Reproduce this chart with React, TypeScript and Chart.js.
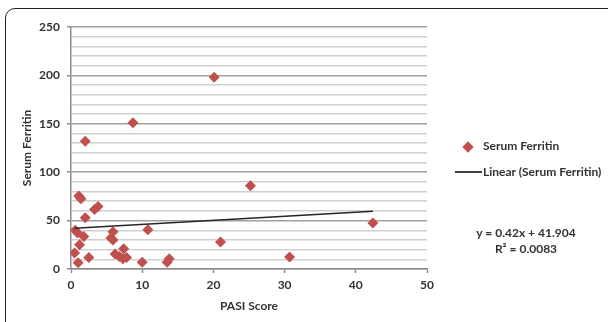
import React, { useEffect, useRef } from 'react';
import { Chart, registerables } from 'chart.js';

Chart.register(...registerables);

// Data
const pasiScores = [20.1, 8.7, 2.0, 25.2, 1.1, 1.4, 3.3, 3.8, 2.0, 0.6, 0.9, 5.9, 10.8, 1.8, 5.6, 5.9, 1.2, 21.0, 7.4, 0.5, 6.2, 6.8, 7.3, 7.8, 2.5, 1.0, 10.0, 13.5, 13.8, 30.7, 42.4];
const serumFerritin = [198, 151, 132, 86, 75.5, 72.5, 61.5, 64.5, 53, 40, 37.5, 38.5, 40.5, 33.5, 32, 30, 25, 28, 21, 16.5, 15.5, 13, 10.5, 12, 12, 6.5, 7, 7, 10.5, 12.5, 47.5];
const trendX = [0.5, 42.4];
const trendY = [42.1, 59.7];
const xTicks = [0, 10, 20, 30, 40, 50];
const yLabelled = [0, 50, 100, 150, 200, 250];
const seriesName = 'Serum Ferritin';
const trendName = 'Linear (Serum Ferritin)';
const equationText = 'y = 0.42x + 41.904';
const r2Text = 'R\u00B2 = 0.0083';

const RED = '#c0504d';
const TEXT = '#333333';
const FONT = 'Lato, "Open Sans", sans-serif';

export default function App() {
  const canvasRef = useRef<HTMLCanvasElement | null>(null);

  useEffect(() => {
    const canvas = canvasRef.current;
    if (!canvas) return;
    const chart = new Chart(canvas, {
      type: 'scatter',
      data: {
        datasets: [
          {
            label: seriesName,
            data: pasiScores.map((x, i) => ({ x, y: serumFerritin[i] })),
            pointStyle: 'rectRot',
            pointRadius: 5.5,
            backgroundColor: RED,
            borderColor: RED,
            borderWidth: 0,
            showLine: false,
            order: 2,
          },
          {
            label: trendName,
            data: trendX.map((x, i) => ({ x, y: trendY[i] })),
            showLine: true,
            borderColor: '#262626',
            borderWidth: 1.5,
            pointRadius: 0,
            order: 1,
          },
        ],
      },
      options: {
        responsive: false,
        animation: false,
        layout: { padding: { top: 27, right: 181, left: 0, bottom: 0 } },
        plugins: {
          legend: { display: false },
          tooltip: { enabled: false },
        },
        scales: {
          x: {
            type: 'linear',
            position: 'bottom',
            min: 0,
            max: 50,
            afterBuildTicks: (s: any) => {
              s.ticks = xTicks.map((v) => ({ value: v }));
            },
            ticks: {
              font: { family: FONT, size: 12, weight: 'bold' },
              color: TEXT,
              padding: 5,
            },
            grid: {
              drawOnChartArea: false,
              drawTicks: true,
              tickLength: 4,
              tickColor: '#8c8c8c',
              tickWidth: 1.5,
            },
            border: { color: '#8c8c8c', width: 1.5 },
            title: {
              display: true,
              text: 'PASI Score',
              font: { family: FONT, size: 12, weight: 'bold' },
              color: TEXT,
              padding: { top: 0, bottom: 9 },
            },
            afterFit: (s: any) => {
              s.height = 53;
            },
          },
          y: {
            type: 'linear',
            min: 0,
            max: 250,
            ticks: {
              stepSize: 10,
              autoSkip: false,
              font: { family: FONT, size: 12, weight: 'bold' },
              color: TEXT,
              padding: 7,
              callback: (v: any) => (yLabelled.includes(Number(v)) ? String(v) : ''),
            },
            grid: {
              color: (ctx: any) => (ctx.tick && ctx.tick.value % 50 === 0 ? '#a0a0a0' : '#cfcfcf'),
              lineWidth: 1.5,
              tickLength: 4,
              tickColor: (ctx: any) => (ctx.tick && ctx.tick.value % 50 === 0 ? '#8c8c8c' : 'rgba(0,0,0,0)'),
            },
            border: { color: '#8c8c8c', width: 1.5 },
            title: {
              display: true,
              text: 'Serum Ferritin',
              font: { family: FONT, size: 12, weight: 'bold' },
              color: TEXT,
              padding: { top: 20, bottom: 0 },
            },
            afterFit: (s: any) => {
              s.width = 71;
            },
          },
        },
      } as any,
    });
    return () => chart.destroy();
  }, []);

  const textStyle: React.CSSProperties = {
    position: 'absolute',
    fontFamily: FONT,
    fontSize: 12,
    fontWeight: 'bold',
    color: TEXT,
    whiteSpace: 'nowrap',
    lineHeight: '14px',
  };

  return (
    <div style={{ position: 'fixed', left: 0, top: 0, width: 608, height: 322, background: '#fff', overflow: 'hidden' }}>
      <canvas ref={canvasRef} width={608} height={322} style={{ position: 'absolute', left: 0, top: 0, width: 608, height: 322 }} />
      {/* legend */}
      <div style={{ position: 'absolute', left: 464, top: 142.5, width: 8, height: 8, background: RED, transform: 'rotate(45deg)' }} />
      <div style={{ ...textStyle, left: 483, top: 139 }}>{seriesName}</div>
      <div style={{ position: 'absolute', left: 455, top: 171, width: 27, height: 1.5, background: '#404040' }} />
      <div style={{ ...textStyle, left: 483, top: 165 }}>{trendName}</div>
      {/* equation */}
      <div style={{ ...textStyle, left: 466, width: 120, top: 225.5, textAlign: 'center' }}>{equationText}</div>
      <div style={{ ...textStyle, left: 466, width: 120, top: 242, textAlign: 'center' }}>{r2Text}</div>
      {/* frame */}
      <div style={{ position: 'absolute', left: 5, top: 7.5, width: 640, height: 360, border: '1.5px solid #222', borderRadius: 10, pointerEvents: 'none' }} />
    </div>
  );
}
